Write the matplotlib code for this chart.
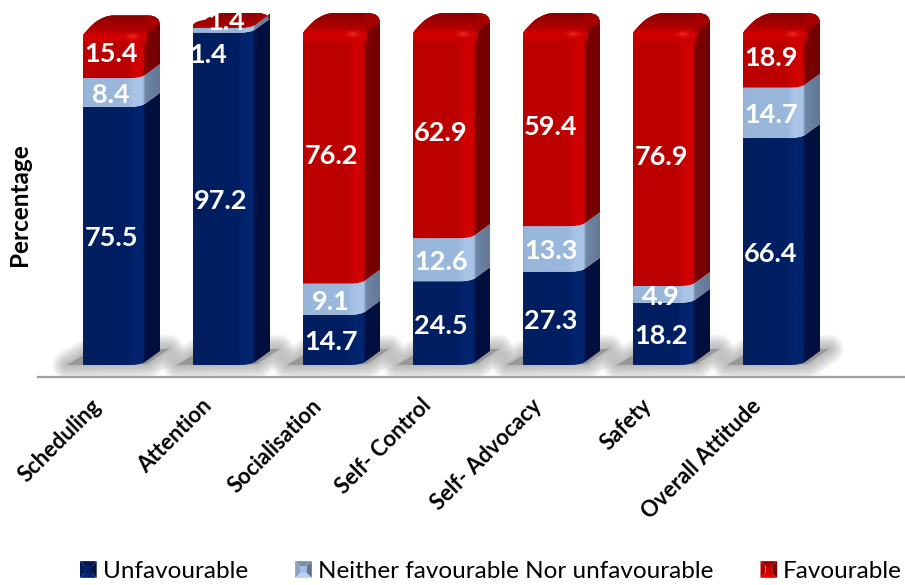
import numpy as np
import matplotlib
matplotlib.use("Agg")
import matplotlib.pyplot as plt
from matplotlib.colors import LinearSegmentedColormap, to_rgb
from matplotlib.legend_handler import HandlerBase
from matplotlib.patches import PathPatch, Polygon, Patch, Ellipse
from matplotlib.path import Path
from matplotlib.transforms import ScaledTranslation

categories = ["Scheduling", "Attention", "Socialisation", "Self- Control",
              "Self- Advocacy", "Safety", "Overall Attitude"]
unfavourable = [75.5, 97.2, 14.7, 24.5, 27.3, 18.2, 66.4]
neither = [8.4, 1.4, 9.1, 12.6, 13.3, 4.9, 14.7]
favourable = [15.4, 1.4, 76.2, 62.9, 59.4, 76.9, 18.9]
series_names = ["Unfavourable", "Neither favourable Nor unfavourable", "Favourable"]

plt.rcParams["font.family"] = ["Lato", "DejaVu Sans"]

W, H = 905, 585
XS = 110.   # px per category
YS = 3.42   # px per percent
def px(v):
    return v/XS
def py(v):
    return v/YS

stops = [0, .03, .58, .66, .78, .81, 1]
cm_blue = LinearSegmentedColormap.from_list("b", list(zip(stops, ["#0c2058", "#011e5f", "#011f64", "#02246e", "#02246e", "#000f40", "#00103c"])))
cm_light = LinearSegmentedColormap.from_list("l", list(zip(stops, ["#8fadd3", "#98b6da", "#9ab8dc", "#a8c4e6", "#a8c4e6", "#6f87a6", "#627696"])))
cm_red = LinearSegmentedColormap.from_list("r", list(zip(stops, ["#b00000", "#bc0000", "#bc0000", "#cf0000", "#cf0000", "#7c0000", "#720000"])))
colors = [cm_blue, cm_light, cm_red]

fig = plt.figure(figsize=(W/100, H/100), dpi=100)
ax = fig.add_axes([38/W, 1-377/H, (W-38)/W, 377/H])
grad = np.linspace(0, 1, 256)[None, :]
BACK = 10   # px the back edge of the cap sits above the front top


def segment_path(x0, b, t, top=False, r=0):
    v = [(x0, b), (x0+px(48), b), (x0+px(57), b), (x0+px(62), b+py(3)),
         (x0+px(77), b+py(14))]
    c = [Path.MOVETO, Path.LINETO, Path.CURVE3, Path.CURVE3, Path.LINETO]
    if top:
        v += [(x0+px(77), t), (x0+px(77), t+py(BACK)), (x0+px(65), t+py(BACK)),
              (x0+px(30), t+py(BACK)), (x0+px(22), t+py(BACK)), (x0+px(12), t+py(BACK-7)),
              (x0+px(2), t-py(r-4)), (x0, t-py(r)), (x0, b)]
        c += [Path.LINETO, Path.CURVE3, Path.CURVE3,
              Path.LINETO, Path.CURVE3, Path.CURVE3,
              Path.CURVE3, Path.CURVE3, Path.CLOSEPOLY]
    else:
        v += [(x0+px(77), t+py(14)), (x0+px(62), t+py(3)), (x0+px(57), t), (x0+px(48), t),
              (x0, t), (x0, b)]
        c += [Path.LINETO, Path.LINETO, Path.CURVE3, Path.CURVE3,
              Path.LINETO, Path.CLOSEPOLY]
    return Path(v, c)


def bevel_cmap():
    # vertical shading of the rounded top, bottom to top
    c0, c1, c2, c3 = map(to_rgb, ["#bc0000", "#d80000", "#ae0000", "#8c0000"])
    return LinearSegmentedColormap.from_list("cap", [
        (0, c0+(0,)), (.35, c1+(1,)), (.6, c2+(1,)), (1, c3+(1,))])


for i in range(len(categories)):
    x0 = i-px(30)
    # blurry floor shadow
    sh = [(x0-px(16), py(0)), (x0+px(8), py(14)), (x0+px(86), py(16)), (x0+px(64), py(1))]
    for lw in range(1, 23, 2):
        ax.add_patch(Polygon(sh, closed=True, fc="#777777", ec="#777777", lw=lw, alpha=.06,
                             joinstyle="round", zorder=1))
    bottom = 0
    vals = [unfavourable[i], neither[i], favourable[i]]
    for j, val in enumerate(vals):
        is_top = j == 2
        r = min(10, .45*val*YS)
        p = PathPatch(segment_path(x0, bottom, bottom+val, is_top, r), fc="none", ec="none", zorder=2)
        ax.add_patch(p)
        im = ax.imshow(grad, extent=[x0, x0+px(77), bottom-1, bottom+val+8], cmap=colors[j],
                       aspect="auto", zorder=2, interpolation="bilinear")
        im.set_clip_path(p)
        if is_top:
            t = bottom+val
            cap = ax.imshow(np.linspace(1, 0, 64)[:, None], extent=[x0, x0+px(64), t-py(24), t+py(BACK)],
                            cmap=bevel_cmap(), aspect="auto", zorder=3, interpolation="bilinear")
            cap.set_clip_path(p)
            side = Polygon([(x0+px(62), t-py(r)), (x0+px(77), t+py(1)), (x0+px(77), t+py(BACK+2)),
                            (x0+px(62), t+py(BACK+2))], closed=True, fc="#a40000", ec="none", zorder=3)
            ax.add_patch(side)
            side.set_clip_path(p)
            if val > 5:
                for w, al in [(16, .12), (11, .2), (6, .35)]:
                    ax.add_patch(Ellipse((x0+px(50), t-py(r+1)), px(w), py(w*.5), fc="#ff3a3a",
                                         ec="none", alpha=al, zorder=4))
        # value label
        ty = bottom+val/2-py(2.5)
        tx = i-px(2)
        if i == 1 and j == 1:
            tx, ty = i-px(15), ty-py(22)
        if i == 1 and j == 2:
            tx, ty = i+px(3), ty+py(6)
        ax.text(tx, ty, "%.1f" % val, color="white", fontsize=19.5, fontweight="bold",
                ha="center", va="center", zorder=5)
        bottom += val

ax.set_xlim(-75/XS, (W-113)/XS)
ax.set_ylim(-12/YS, 365/YS)
for s in ["top", "left", "right"]:
    ax.spines[s].set_visible(False)
ax.spines["bottom"].set_color("#a0a0a0")
ax.spines["bottom"].set_linewidth(1.6)
ax.set_yticks([])
ax.set_xticks(range(len(categories)))
ax.set_xticklabels(categories, rotation=45, ha="right", rotation_mode="anchor",
                   fontsize=15.8, fontweight="bold", color="black")
ax.tick_params(axis="x", length=0, pad=13)
for lab in ax.get_xticklabels():
    lab.set_transform(lab.get_transform()+ScaledTranslation(-16/72, 0, fig.dpi_scale_trans))
ax.set_ylabel("Percentage", fontsize=17.5, fontweight="bold")
ax.yaxis.set_label_coords(-7/867, (377-205)/377)


class BevelHandler(HandlerBase):
    # little square with four shaded sides, as the legend keys of the original
    def create_artists(self, legend, handle, xd, yd, width, height, fontsize, trans):
        x, y = -xd, -yd
        s = height
        e = s*.3
        base = np.array(to_rgb(handle.get_facecolor()))
        out = []
        corners = [(x, y), (x+s, y), (x+s, y+s), (x, y+s)]
        inner = [(x+e, y+e), (x+s-e, y+e), (x+s-e, y+s-e), (x+e, y+s-e)]
        for k, shade in enumerate([1.1, .6, .75, .85]):
            pts = [corners[k], corners[(k+1) % 4], inner[(k+1) % 4], inner[k]]
            out.append(Polygon(pts, closed=True, fc=np.clip(base*shade, 0, 1), ec="none", transform=trans))
        out.append(Polygon(inner, closed=True, fc=base, ec="none", transform=trans))
        return out


handles = [Patch(fc="#01206a"), Patch(fc="#a2bfe2"), Patch(fc="#d00000")]
fig.legend(handles, series_names, ncol=3, loc="lower left", bbox_to_anchor=(80/W, 3/H),
           frameon=False, fontsize=17.5, handlelength=.68, handleheight=.68,
           handletextpad=.25, columnspacing=1.95, borderpad=0, borderaxespad=0,
           handler_map={Patch: BevelHandler()})

fig.savefig("out.png", dpi=100)
